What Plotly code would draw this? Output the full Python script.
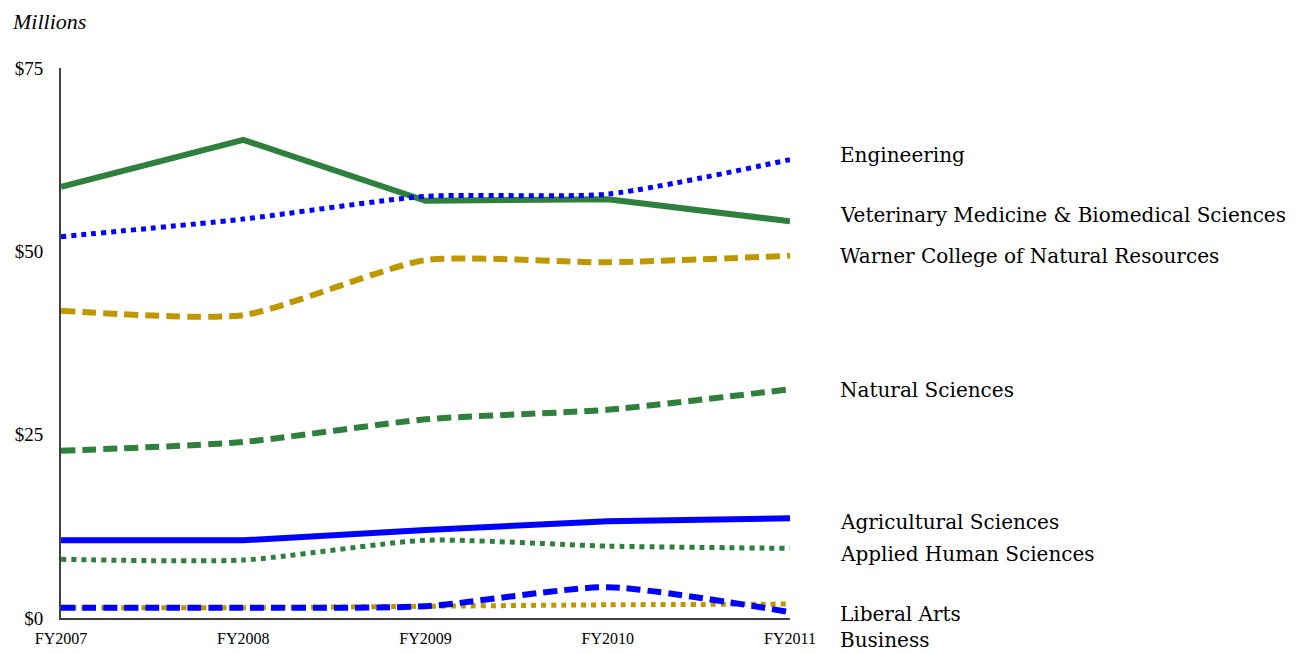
import plotly.graph_objects as go

years = ["FY2007", "FY2008", "FY2009", "FY2010", "FY2011"]

engineering = [52.0, 54.4, 57.5, 57.8, 62.5]
vet_med = [58.8, 65.2, 56.9, 57.1, 54.1]
warner = [41.9, 41.3, 48.8, 48.5, 49.4]
natural_sciences = [22.8, 24.0, 27.1, 28.4, 31.2]
agricultural = [10.6, 10.6, 12.0, 13.2, 13.6]
applied_human = [8.0, 7.9, 10.6, 9.8, 9.5]
liberal_arts = [1.4, 1.4, 1.6, 4.2, 0.8]
business = [1.4, 1.4, 1.6, 1.8, 1.9]

labels = ["Engineering", "Veterinary Medicine & Biomedical Sciences",
          "Warner College of Natural Resources", "Natural Sciences",
          "Agricultural Sciences", "Applied Human Sciences",
          "Liberal Arts", "Business"]
label_y = [63.1, 55.0, 49.4, 31.1, 13.1, 8.7, 0.55, -3.0]

y_ticks = [0, 25, 50, 75]
y_tick_text = ["$0", "$25", "$50", "$75"]

Y_MAX = 75

BLUE = "#0000FF"
GREEN = "#2F803D"
GOLD = "#BF9800"

series = [
    (business, GOLD, "dot", 5, "spline"),
    (liberal_arts, BLUE, "14px,7px", 6, "spline"),
    (applied_human, GREEN, "dot", 5, "spline"),
    (agricultural, BLUE, "solid", 6, "linear"),
    (natural_sciences, GREEN, "14px,7px", 6, "spline"),
    (warner, GOLD, "14px,7px", 6, "spline"),
    (vet_med, GREEN, "solid", 6, "linear"),
    (engineering, BLUE, "dot", 5, "spline"),
]

fig = go.Figure()
for vals, color, dash, w, shape in series:
    fig.add_trace(go.Scatter(
        x=list(range(len(years))), y=vals, mode="lines",
        line=dict(color=color, width=w, dash=dash, shape=shape, smoothing=0.6),
        cliponaxis=False, showlegend=False, hoverinfo="skip"))

for lab, yv in zip(labels, label_y):
    fig.add_annotation(x=1.0658, xref="paper", y=yv / Y_MAX, yref="paper", text=lab,
                       xanchor="left", yanchor="middle", showarrow=False,
                       font=dict(family="DejaVu Serif", size=20, color="#000000"))

fig.add_annotation(x=-0.07, xref="paper", y=1.084, yref="paper", text="<i>Millions</i>",
                   xanchor="left", yanchor="middle", showarrow=False,
                   font=dict(family="Liberation Serif", size=22, color="#000000"))

fig.update_layout(
    width=1293, height=646,
    margin=dict(l=53, r=511, t=60, b=36, autoexpand=False),
    paper_bgcolor="white", plot_bgcolor="white",
    font=dict(family="Liberation Serif", color="#000000"),
    xaxis=dict(range=[0, 4], tickmode="array", tickvals=list(range(5)), ticktext=years,
               showgrid=False, zeroline=False, showline=True, linecolor="#404040",
               linewidth=2, ticks="", ticklabelstandoff=5, automargin=False,
               tickfont=dict(size=16, family="Liberation Serif")),
    yaxis=dict(range=[0, Y_MAX], tickmode="array", tickvals=y_ticks, ticktext=y_tick_text,
               showgrid=False, zeroline=False, showline=True, linecolor="#404040",
               linewidth=2, ticks="", ticklabelstandoff=12, automargin=False,
               tickfont=dict(size=19, family="Liberation Serif")),
)

fig.write_html("out.html")
